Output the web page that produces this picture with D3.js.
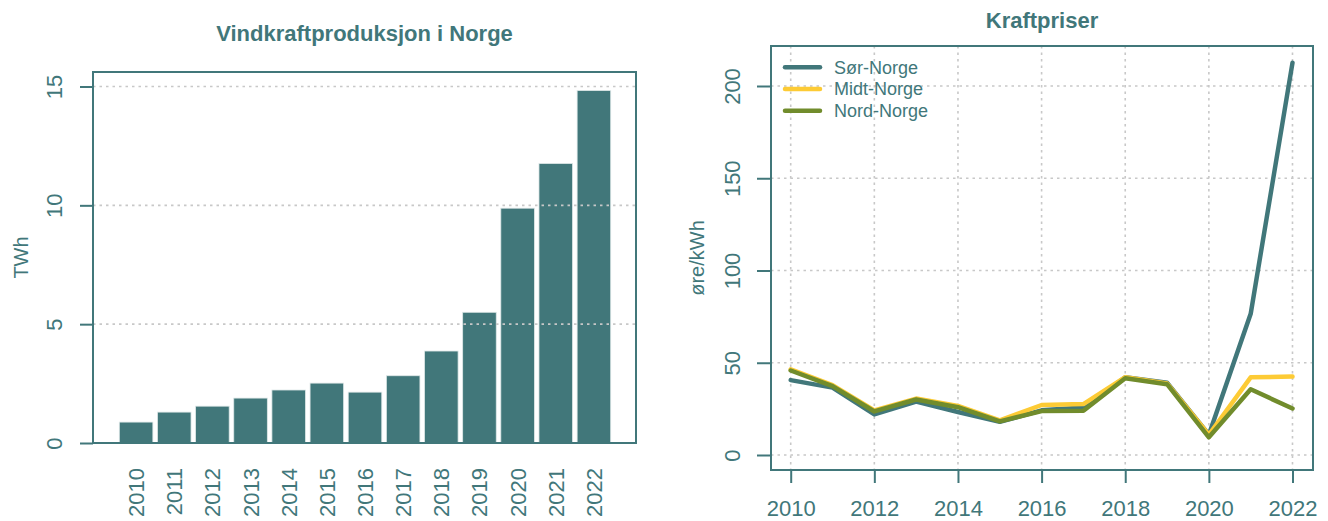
<!DOCTYPE html>
<html>
<head>
<meta charset="utf-8">
<script src="https://cdn.jsdelivr.net/npm/d3@7"></script>
<style>
  body { margin: 0; background: #fff; }
  text { font-family: "Liberation Sans", Arial, sans-serif; fill: #41777a; }
</style>
</head>
<body>
<script>
// vindkraft (TWh)
const years = ["2010","2011","2012","2013","2014","2015","2016","2017","2018","2019","2020","2021","2022"];
const twh = [0.88, 1.3, 1.55, 1.89, 2.23, 2.52, 2.14, 2.83, 3.87, 5.5, 9.88, 11.76, 14.83];
const twhTicks = [0, 5, 10, 15];

// kraftpriser (øre/kWh)
const priceYears = [2010,2011,2012,2013,2014,2015,2016,2017,2018,2019,2020,2021,2022];
const sor  = [40.6, 36.5, 22.0, 28.9, 23.3, 18.0, 24.2, 25.8, 42.1, 39.2, 11.0, 76.5, 212.6];
const midt = [46.4, 37.9, 24.2, 30.6, 26.6, 18.8, 27.1, 27.6, 42.2, 38.8, 11.0, 42.1, 42.5];
const nord = [45.8, 37.3, 23.6, 30.1, 25.9, 18.2, 23.8, 24.0, 41.6, 38.4, 9.6, 35.6, 25.2];
const seriesNames = ["Sør-Norge", "Midt-Norge", "Nord-Norge"];
const seriesColors = ["#41777a", "#fdcb35", "#718c2c"];
const priceTicks = [0, 50, 100, 150, 200];
const yearTicks = [2010, 2012, 2014, 2016, 2018, 2020, 2022];

const teal = "#41777a";
const gridCol = "#c8c8c8";

const svg = d3.select("body").append("svg")
  .attr("width", 1328)
  .attr("height", 521);

// ---------- left: bars ----------
const L = {left: 93, right: 636, top: 72, bottom: 443};

const xBand = d3.scaleBand()
  .domain(years)
  .range([119.3, 610.7])
  .paddingInner(0.12)
  .paddingOuter(0);

const yTwh = d3.scaleLinear()
  .domain([0, 15])
  .range([443, 86.5]);

const gl = svg.append("g");

gl.append("text")
  .attr("x", (L.left + L.right) / 2)
  .attr("y", 41)
  .attr("text-anchor", "middle")
  .attr("font-weight", "bold")
  .attr("font-size", 22)
  .text("Vindkraftproduksjon i Norge");

gl.append("g")
  .selectAll("rect")
  .data(years)
  .join("rect")
  .attr("x", d => xBand(d))
  .attr("width", xBand.bandwidth())
  .attr("y", (d, i) => yTwh(twh[i]))
  .attr("height", (d, i) => yTwh(0) - yTwh(twh[i]))
  .attr("fill", teal)
  .attr("stroke", "#dfe8e8")
  .attr("stroke-width", 0.8);

// grid over bars
gl.append("g")
  .selectAll("line")
  .data(twhTicks.filter(d => d > 0))
  .join("line")
  .attr("x1", L.left)
  .attr("x2", L.right)
  .attr("y1", d => yTwh(d))
  .attr("y2", d => yTwh(d))
  .attr("stroke", gridCol)
  .attr("stroke-width", 1.6)
  .attr("stroke-dasharray", "2.5,4");

gl.append("rect")
  .attr("x", L.left)
  .attr("y", L.top)
  .attr("width", L.right - L.left)
  .attr("height", L.bottom - L.top)
  .attr("fill", "none")
  .attr("stroke", teal)
  .attr("stroke-width", 2);

// y axis
const yAxL = gl.append("g")
  .attr("transform", "translate(" + L.left + ",0)")
  .call(d3.axisLeft(yTwh).tickValues(twhTicks).tickSize(13).tickFormat(d3.format("d")));
yAxL.select(".domain").remove();
yAxL.selectAll(".tick line").attr("stroke", teal).attr("stroke-width", 2);
yAxL.selectAll(".tick text")
  .attr("x", null).attr("dy", null)
  .attr("transform", "translate(-31,0) rotate(-90)")
  .attr("text-anchor", "middle")
  .attr("font-size", 22)
  .style("fill", teal);

// x labels
gl.append("g")
  .selectAll("text")
  .data(years)
  .join("text")
  .attr("transform", d => "translate(" + (xBand(d) + xBand.bandwidth() / 2 + 8) + ",468) rotate(-90)")
  .attr("text-anchor", "end")
  .attr("font-size", 22)
  .text(d => d);

gl.append("text")
  .attr("transform", "translate(28," + (L.top + L.bottom) / 2 + ") rotate(-90)")
  .attr("text-anchor", "middle")
  .attr("font-size", 20)
  .text("TWh");

// ---------- right: lines ----------
const R = {left: 771, right: 1313, top: 46, bottom: 470};

const xYear = d3.scaleLinear()
  .domain([2010, 2022])
  .range([790.7, 1292.5]);

const yPrice = d3.scaleLinear()
  .domain([0, 200])
  .range([455, 86]);

const gr = svg.append("g");

gr.append("text")
  .attr("x", (R.left + R.right) / 2)
  .attr("y", 28)
  .attr("text-anchor", "middle")
  .attr("font-weight", "bold")
  .attr("font-size", 22)
  .text("Kraftpriser");

// grid
gr.append("g")
  .selectAll("line")
  .data(yearTicks)
  .join("line")
  .attr("x1", d => xYear(d))
  .attr("x2", d => xYear(d))
  .attr("y1", R.top)
  .attr("y2", R.bottom)
  .attr("stroke", gridCol)
  .attr("stroke-width", 1.6)
  .attr("stroke-dasharray", "2.5,4");

gr.append("g")
  .selectAll("line")
  .data(priceTicks)
  .join("line")
  .attr("x1", R.left)
  .attr("x2", R.right)
  .attr("y1", d => yPrice(d))
  .attr("y2", d => yPrice(d))
  .attr("stroke", gridCol)
  .attr("stroke-width", 1.6)
  .attr("stroke-dasharray", "2.5,4");

const allSeries = [sor, midt, nord];
const line = d3.line()
  .x((d, i) => xYear(priceYears[i]))
  .y(d => yPrice(d));

gr.append("g")
  .selectAll("path")
  .data(allSeries)
  .join("path")
  .attr("d", d => line(d))
  .attr("fill", "none")
  .attr("stroke", (d, i) => seriesColors[i])
  .attr("stroke-width", 4.5)
  .attr("stroke-linejoin", "round")
  .attr("stroke-linecap", "round");

gr.append("rect")
  .attr("x", R.left)
  .attr("y", R.top)
  .attr("width", R.right - R.left)
  .attr("height", R.bottom - R.top)
  .attr("fill", "none")
  .attr("stroke", teal)
  .attr("stroke-width", 2);

// y axis
const yAxR = gr.append("g")
  .attr("transform", "translate(" + R.left + ",0)")
  .call(d3.axisLeft(yPrice).tickValues(priceTicks).tickSize(14).tickFormat(d3.format("d")));
yAxR.select(".domain").remove();
yAxR.selectAll(".tick line").attr("stroke", teal).attr("stroke-width", 2);
yAxR.selectAll(".tick text")
  .attr("x", null).attr("dy", null)
  .attr("transform", "translate(-31,0) rotate(-90)")
  .attr("text-anchor", "middle")
  .attr("font-size", 22)
  .style("fill", teal);

// x axis
const xAxR = gr.append("g")
  .attr("transform", "translate(0," + R.bottom + ")")
  .call(d3.axisBottom(xYear).tickValues(yearTicks).tickSize(13).tickFormat(d3.format("d")));
xAxR.select(".domain").remove();
xAxR.selectAll(".tick line").attr("stroke", teal).attr("stroke-width", 2);
xAxR.selectAll(".tick text")
  .attr("y", 46).attr("dy", null)
  .attr("font-size", 22)
  .style("fill", teal);

gr.append("text")
  .attr("transform", "translate(704," + (R.top + R.bottom) / 2 + ") rotate(-90)")
  .attr("text-anchor", "middle")
  .attr("font-size", 20)
  .text("øre/kWh");

// legend
const legend = gr.append("g")
  .selectAll("g")
  .data(seriesNames)
  .join("g")
  .attr("transform", (d, i) => "translate(785," + (67.3 + i * 21.7) + ")");
legend.append("line")
  .attr("x1", 0).attr("x2", 35)
  .attr("stroke", (d, i) => seriesColors[i])
  .attr("stroke-width", 4.5)
  .attr("stroke-linecap", "round");
legend.append("text")
  .attr("x", 49)
  .attr("dy", "0.36em")
  .attr("font-size", 18)
  .text(d => d);
</script>
</body>
</html>
